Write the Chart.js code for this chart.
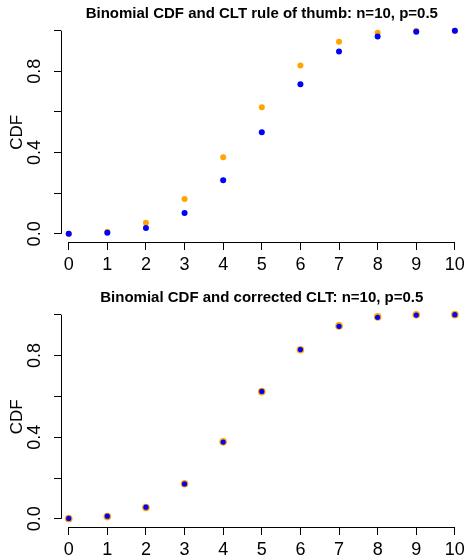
<!DOCTYPE html>
<html>
<head>
<meta charset="utf-8">
<script src="https://cdn.jsdelivr.net/npm/chart.js@4.4.1/dist/chart.umd.min.js"></script>
<style>
  body { margin: 0; background: #fff; }
  canvas { display: block; }
</style>
</head>
<body>
<canvas id="top" width="469" height="278"></canvas>
<canvas id="bottom" width="469" height="278"></canvas>
<script>
// data
const kValues = [0, 1, 2, 3, 4, 5, 6, 7, 8, 9, 10];
const binomCdf = [0.001, 0.011, 0.055, 0.172, 0.377, 0.623, 0.828, 0.945, 0.989, 0.999, 1.0];
const normalCdf = [0.001, 0.006, 0.029, 0.103, 0.264, 0.500, 0.736, 0.897, 0.971, 0.994, 0.999];
const correctedCdf = [0.002, 0.013, 0.057, 0.171, 0.376, 0.624, 0.829, 0.943, 0.987, 0.998, 1.0];
const xTicks = [0, 1, 2, 3, 4, 5, 6, 7, 8, 9, 10];
const yTicks = [0, 0.2, 0.4, 0.6, 0.8, 1.0];
const yTickLabels = ['0.0', '', '0.4', '', '0.8', ''];

const FONT = 'Liberation Sans, Arial, sans-serif';

// R style axis line, only from first to last tick
const rAxes = {
  id: 'rAxes',
  afterDraw(chart) {
    const {ctx, chartArea, scales} = chart;
    ctx.save();
    ctx.strokeStyle = '#000';
    ctx.lineWidth = 1;
    ctx.beginPath();
    const x0 = scales.x.getPixelForValue(xTicks[0]);
    const x1 = scales.x.getPixelForValue(xTicks[xTicks.length - 1]);
    ctx.moveTo(x0, Math.round(chartArea.bottom) + 0.5);
    ctx.lineTo(x1, Math.round(chartArea.bottom) + 0.5);
    const y0 = scales.y.getPixelForValue(yTicks[0]);
    const y1 = scales.y.getPixelForValue(yTicks[yTicks.length - 1]);
    ctx.moveTo(Math.round(chartArea.left) + 0.5, y0);
    ctx.lineTo(Math.round(chartArea.left) + 0.5, y1);
    ctx.stroke();
    ctx.restore();
  }
};

function makeChart(id, title, approx, opts) {
  return new Chart(document.getElementById(id), {
    type: 'scatter',
    data: {
      datasets: [
        {
          label: 'normal',
          data: kValues.map((k, i) => ({x: k, y: approx[i]})),
          backgroundColor: '#0000ff',
          borderWidth: 0,
          pointRadius: opts.blueR
        },
        {
          label: 'binomial',
          data: kValues.map((k, i) => ({x: k, y: binomCdf[i]})),
          backgroundColor: '#ffa500',
          borderWidth: 0,
          pointRadius: opts.orangeR
        }
      ]
    },
    options: {
      responsive: false,
      animation: false,
      layout: {padding: {left: 0, right: 5, top: opts.padTop, bottom: 0}},
      plugins: {
        legend: {display: false},
        tooltip: {enabled: false},
        title: {
          display: true,
          text: title,
          fullSize: false,
          color: '#000',
          font: {family: FONT, size: 15, weight: 'bold', lineHeight: 1},
          padding: {top: 0, bottom: opts.titleGap}
        }
      },
      scales: {
        x: {
          type: 'linear',
          min: -0.2,
          max: 10.2,
          afterBuildTicks: s => { s.ticks = xTicks.map(v => ({value: v})); },
          afterFit: s => { s.height = opts.xHeight; },
          grid: {drawOnChartArea: false, drawTicks: true, tickLength: 8, color: '#000', tickColor: '#000'},
          border: {display: false},
          ticks: {color: '#000', font: {family: FONT, size: 18}, padding: 4, maxRotation: 0, autoSkip: false,
            callback: v => String(v)}
        },
        y: {
          type: 'linear',
          min: -0.04,
          max: 1.04,
          afterBuildTicks: s => { s.ticks = yTicks.map(v => ({value: v})); },
          afterFit: s => { s.width = 61; },
          grid: {drawOnChartArea: false, drawTicks: true, tickLength: 7, color: '#000', tickColor: '#000'},
          border: {display: false},
          title: {display: true, text: 'CDF', color: '#000', font: {family: FONT, size: 17}, padding: {top: 7, bottom: 0}},
          ticks: {color: '#000', font: {family: FONT, size: 18}, padding: 6, minRotation: 90, maxRotation: 90,
            crossAlign: 'center', autoSkip: false,
            callback: (v, i) => yTickLabels[i]}
        }
      }
    },
    plugins: [rAxes]
  });
}

makeChart('top', 'Binomial CDF and CLT rule of thumb: n=10, p=0.5', normalCdf,
  {blueR: 3, orangeR: 3, padTop: 6, titleGap: 1.5, xHeight: 36});
makeChart('bottom', 'Binomial CDF and corrected CLT: n=10, p=0.5', correctedCdf,
  {blueR: 2.6, orangeR: 3.8, padTop: 12, titleGap: 1.5, xHeight: 29});
</script>
</body>
</html>
